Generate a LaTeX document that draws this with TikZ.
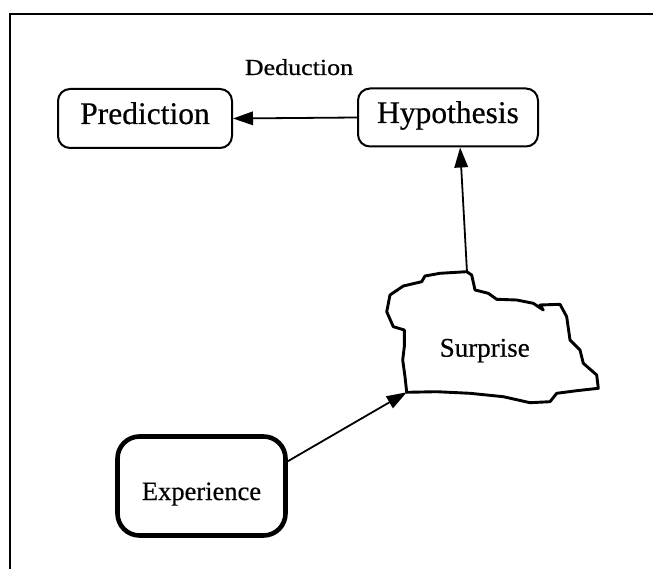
\documentclass[tikz,border=0pt]{standalone}
\usepackage{fontspec}
\setmainfont{Liberation Serif}[FakeBold=0.5]
\usetikzlibrary{arrows.meta}
\begin{document}
\begin{tikzpicture}[x=1pt,y=-1pt,
  box/.style={draw, line width=2pt, rounded corners=12pt, inner sep=0pt,
    font=\fontsize{31.5}{34}\selectfont, text height=22pt, text depth=11pt},
  thickbox/.style={draw, line width=4.6pt, rounded corners=22pt, inner sep=0pt,
    font=\fontsize{26.5}{30}\selectfont, text height=28pt, text depth=0pt},
  link/.style={line width=1.8pt, -{Triangle[length=20pt,width=13.5pt]}},
  frame/.style={line width=2.2pt}]
\useasboundingbox (0,0) rectangle (653,569);

% page frame (top and left edges)
\draw[frame] (653,14) -- (10,14) -- (10,569);

% rounded boxes
\node[box, minimum width=174pt, minimum height=59pt] (pred) at (145,118.5) {Prediction};
\node[box, minimum width=180pt, minimum height=58pt] (hyp) at (448,117.5) {Hypothesis};
\node[thickbox, minimum width=168pt, minimum height=99pt] (exp) at (201.5,486) {Experience};
\node[anchor=base, font=\fontsize{23}{26}\selectfont] (ded) at (299,75) {\scalebox{1.13}[1]{Deduction}};

% irregular outline around the surprise
\draw[line width=2.9pt, line join=round]
  (406.7,392.3) -- (405,376.7) -- (402.7,360) -- (404.3,346.7) -- (404.3,330)
  -- (393.3,326.7) -- (386.7,311.7) -- (390,295) -- (403.3,286) -- (421.7,281.7)
  -- (425,276) -- (440,273.3) -- (466.7,271.7) -- (471.7,275) -- (475,290)
  -- (488.3,293.3) -- (496.7,299.3) -- (516.7,300) -- (533.3,303.3) -- (543.3,310)
  -- (540,305) -- (560,304.3) -- (566.7,316.7) -- (570,340) -- (580,350)
  -- (583.3,363.3) -- (596.7,375) -- (598.3,388.3) -- (576.7,390.7) -- (556.7,393.3)
  -- (550,401.7) -- (530,402.7) -- (503.3,396.7) -- (470,393.3) -- (436.7,391.7)
  -- cycle;
\node[anchor=base, font=\fontsize{27}{30}\selectfont] (sur) at (484.7,356.7) {Surprise};
\coordinate (surTop) at (467,272);
\coordinate (surCorner) at (406.7,392.3);

% connectors
\draw[link] (hyp.west) -- (pred.east);
\draw[link] (surTop) -- (hyp.-68);
\draw[link] (exp.16) -- (surCorner);
\end{tikzpicture}
\end{document}
